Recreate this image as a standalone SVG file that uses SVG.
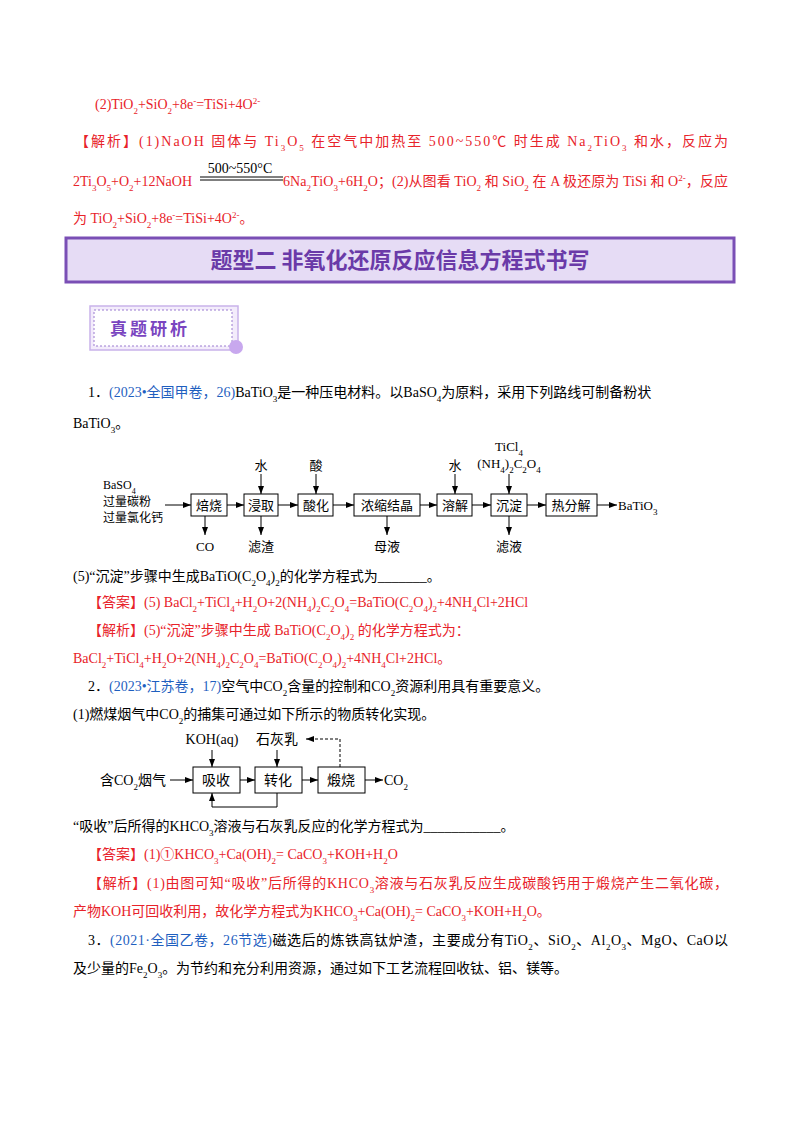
<svg xmlns="http://www.w3.org/2000/svg" width="800" height="1132" viewBox="0 0 800 1132">
<defs>
<style>
text{font-family:"Liberation Serif","Noto Sans CJK SC",serif;font-size:14px;fill:#000}
.r{fill:#e8232a}
.b{fill:#1f5fbf}
.s{font-size:9px;baseline-shift:sub}
.p{font-size:9px;baseline-shift:super}
.box{fill:#fff;stroke:#000;stroke-width:1}
.ln{fill:none;stroke:#000;stroke-width:1}
.c{text-anchor:middle}
.f{font-size:13px}
</style>
<marker id="a" viewBox="0 0 8 6" refX="8" refY="3" markerWidth="8" markerHeight="6" orient="auto" markerUnits="userSpaceOnUse"><path d="M0,0L8,3L0,6z" fill="#000"/></marker>
</defs>
<rect width="800" height="1132" fill="#fff"/>

<text class="r" x="95" y="109">(2)TiO<tspan class="s">2</tspan>+SiO<tspan class="s">2</tspan>+8e<tspan class="p">-</tspan>=TiSi+4O<tspan class="p">2-</tspan></text>
<text class="r" x="75" y="146" textLength="653" lengthAdjust="spacing">【解析】(1)NaOH 固体与 Ti<tspan class="s">3</tspan>O<tspan class="s">5</tspan> 在空气中加热至 500~550℃ 时生成 Na<tspan class="s">2</tspan>TiO<tspan class="s">3</tspan> 和水，反应为</text>
<text class="r" x="73" y="186">2Ti<tspan class="s">3</tspan>O<tspan class="s">5</tspan>+O<tspan class="s">2</tspan>+12NaOH</text>
<text x="240" y="173" class="c">500~550°C</text>
<path class="ln" d="M200,177H283M200,180H283"/>
<text class="r" x="283" y="186" textLength="445" lengthAdjust="spacing">6Na<tspan class="s">2</tspan>TiO<tspan class="s">3</tspan>+6H<tspan class="s">2</tspan>O；(2)从图看 TiO<tspan class="s">2</tspan> 和 SiO<tspan class="s">2</tspan> 在 A 极还原为 TiSi 和 O<tspan class="p">2-</tspan>，反应</text>
<text class="r" x="73" y="223">为 TiO<tspan class="s">2</tspan>+SiO<tspan class="s">2</tspan>+8e<tspan class="p">-</tspan>=TiSi+4O<tspan class="p">2-</tspan>。</text>

<g id="header">
<rect x="66" y="238" width="668" height="44" fill="#e6dcf5" stroke="#7a4fb5" stroke-width="3"/>
<text x="400" y="268" class="c" style="font-family:'Noto Sans CJK SC',sans-serif;font-size:22px;font-weight:bold;fill:#6a3aa8">题型二  非氧化还原反应信息方程式书写</text>
</g>
<g id="badge">
<rect x="90" y="306" width="148" height="44" fill="#f3ecfb" stroke="#c9b3ea" stroke-width="1.5"/>
<rect x="94" y="310" width="138" height="36" fill="#fff" stroke="#9a7ad0" stroke-dasharray="2,2"/>
<circle cx="236" cy="347" r="7" fill="#c8a8ee"/>
<text x="150" y="335" class="c" style="font-family:'Noto Sans CJK SC',sans-serif;font-size:17px;font-weight:bold;fill:#7a45c0;letter-spacing:3px">真题研析</text>
</g>

<text x="88" y="397">1．<tspan class="b">(2023•全国甲卷，26)</tspan>BaTiO<tspan class="s">3</tspan>是一种压电材料。以BaSO<tspan class="s">4</tspan>为原料，采用下列路线可制备粉状</text>
<text x="73" y="428">BaTiO<tspan class="s">3</tspan>。</text>

<g id="flow1">
<g id="n-beishao"><rect class="box" x="191" y="494" width="36" height="22"/><text x="209" y="510" class="c f">焙烧</text></g>
<g id="n-jinqu"><rect class="box" x="244" y="494" width="34" height="22"/><text x="261" y="510" class="c f">浸取</text></g>
<g id="n-suanhua"><rect class="box" x="298" y="494" width="35" height="22"/><text x="316" y="510" class="c f">酸化</text></g>
<g id="n-nongsuo"><rect class="box" x="354" y="494" width="66" height="22"/><text x="387" y="510" class="c f">浓缩结晶</text></g>
<g id="n-rongjie"><rect class="box" x="437" y="494" width="35" height="22"/><text x="455" y="510" class="c f">溶解</text></g>
<g id="n-chendian"><rect class="box" x="491" y="494" width="36" height="22"/><text x="509" y="510" class="c f">沉淀</text></g>
<g id="n-refenjie"><rect class="box" x="546" y="494" width="51" height="22"/><text x="571" y="510" class="c f">热分解</text></g>
<text x="103" y="489" style="font-size:12px">BaSO<tspan class="s" style="font-size:8px">4</tspan></text>
<text x="103" y="506" style="font-size:12px">过量碳粉</text>
<text x="103" y="522" style="font-size:12px">过量氯化钙</text>
<text x="261" y="470" class="c f">水</text>
<text x="316" y="470" class="c f">酸</text>
<text x="455" y="470" class="c f">水</text>
<text x="509" y="451" class="c f">TiCl<tspan class="s">4</tspan></text>
<text x="509" y="468" class="c f">(NH<tspan class="s">4</tspan>)<tspan class="s">2</tspan>C<tspan class="s">2</tspan>O<tspan class="s">4</tspan></text>
<text x="205" y="551" class="c f">CO</text>
<text x="261" y="551" class="c f">滤渣</text>
<text x="387" y="551" class="c f">母液</text>
<text x="509" y="551" class="c f">滤液</text>
<text x="618" y="510" class="f">BaTiO<tspan class="s">3</tspan></text>
</g>
<g id="conn1" marker-end="url(#a)" class="ln">
<path d="M165,505H191"/><path d="M227,505H244"/><path d="M278,505H298"/><path d="M333,505H354"/><path d="M420,505H437"/><path d="M472,505H491"/><path d="M527,505H546"/><path d="M597,505H617"/>
<path d="M261,474V494"/><path d="M316,474V494"/><path d="M455,474V494"/><path d="M509,474V494"/>
<path d="M205,516V535"/><path d="M261,516V535"/><path d="M387,516V535"/><path d="M509,516V535"/>
</g>

<text x="73" y="581">(5)“沉淀”步骤中生成BaTiO(C<tspan class="s">2</tspan>O<tspan class="s">4</tspan>)<tspan class="s">2</tspan>的化学方程式为_______。</text>
<text class="r" x="88" y="607">【答案】(5)  BaCl<tspan class="s">2</tspan>+TiCl<tspan class="s">4</tspan>+H<tspan class="s">2</tspan>O+2(NH<tspan class="s">4</tspan>)<tspan class="s">2</tspan>C<tspan class="s">2</tspan>O<tspan class="s">4</tspan>=BaTiO(C<tspan class="s">2</tspan>O<tspan class="s">4</tspan>)<tspan class="s">2</tspan>+4NH<tspan class="s">4</tspan>Cl+2HCl</text>
<text class="r" x="88" y="635">【解析】(5)“沉淀”步骤中生成 BaTiO(C<tspan class="s">2</tspan>O<tspan class="s">4</tspan>)<tspan class="s">2</tspan> 的化学方程式为：</text>
<text class="r" x="73" y="663">BaCl<tspan class="s">2</tspan>+TiCl<tspan class="s">4</tspan>+H<tspan class="s">2</tspan>O+2(NH<tspan class="s">4</tspan>)<tspan class="s">2</tspan>C<tspan class="s">2</tspan>O<tspan class="s">4</tspan>=BaTiO(C<tspan class="s">2</tspan>O<tspan class="s">4</tspan>)<tspan class="s">2</tspan>+4NH<tspan class="s">4</tspan>Cl+2HCl。</text>
<text x="88" y="691">2．<tspan class="b">(2023•江苏卷，17)</tspan>空气中CO<tspan class="s">2</tspan>含量的控制和CO<tspan class="s">2</tspan>资源利用具有重要意义。</text>
<text x="73" y="719">(1)燃煤烟气中CO<tspan class="s">2</tspan>的捕集可通过如下所示的物质转化实现。</text>

<g id="flow2">
<g id="n-xishou"><rect class="box" x="193" y="767" width="47" height="26"/><text x="216" y="785" class="c">吸收</text></g>
<g id="n-zhuanhua"><rect class="box" x="255" y="767" width="47" height="26"/><text x="278" y="785" class="c">转化</text></g>
<g id="n-duanshao"><rect class="box" x="318" y="767" width="47" height="26"/><text x="341" y="785" class="c">煅烧</text></g>
<text x="212" y="744" class="c">KOH(aq)</text>
<text x="277" y="744" class="c">石灰乳</text>
<text x="100" y="785">含CO<tspan class="s">2</tspan>烟气</text>
<text x="384" y="785">CO<tspan class="s">2</tspan></text>
</g>
<g id="conn2" class="ln" marker-end="url(#a)">
<path d="M170,780H193"/><path d="M240,780H255"/><path d="M302,780H318"/><path d="M365,780H383"/>
<path d="M212,750V767"/><path d="M277,750V767"/>
<path d="M340,767V739H306" stroke-dasharray="3,2"/>
<path d="M277,793V807H212V793"/>
</g>

<text x="73" y="831">“吸收”后所得的KHCO<tspan class="s">3</tspan>溶液与石灰乳反应的化学方程式为___________。</text>
<text class="r" x="88" y="859">【答案】(1)①KHCO<tspan class="s">3</tspan>+Ca(OH)<tspan class="s">2</tspan>= CaCO<tspan class="s">3</tspan>+KOH+H<tspan class="s">2</tspan>O</text>
<text class="r" x="88" y="888" textLength="640" lengthAdjust="spacing">【解析】(1)由图可知“吸收”后所得的KHCO<tspan class="s">3</tspan>溶液与石灰乳反应生成碳酸钙用于煅烧产生二氧化碳，</text>
<text class="r" x="73" y="916">产物KOH可回收利用，故化学方程式为KHCO<tspan class="s">3</tspan>+Ca(OH)<tspan class="s">2</tspan>= CaCO<tspan class="s">3</tspan>+KOH+H<tspan class="s">2</tspan>O。</text>
<text x="88" y="945" textLength="640" lengthAdjust="spacing">3．<tspan class="b">(2021·全国乙卷，26节选)</tspan>磁选后的炼铁高钛炉渣，主要成分有TiO<tspan class="s">2</tspan>、SiO<tspan class="s">2</tspan>、Al<tspan class="s">2</tspan>O<tspan class="s">3</tspan>、MgO、CaO以</text>
<text x="73" y="973">及少量的Fe<tspan class="s">2</tspan>O<tspan class="s">3</tspan>。为节约和充分利用资源，通过如下工艺流程回收钛、铝、镁等。</text>
</svg>
